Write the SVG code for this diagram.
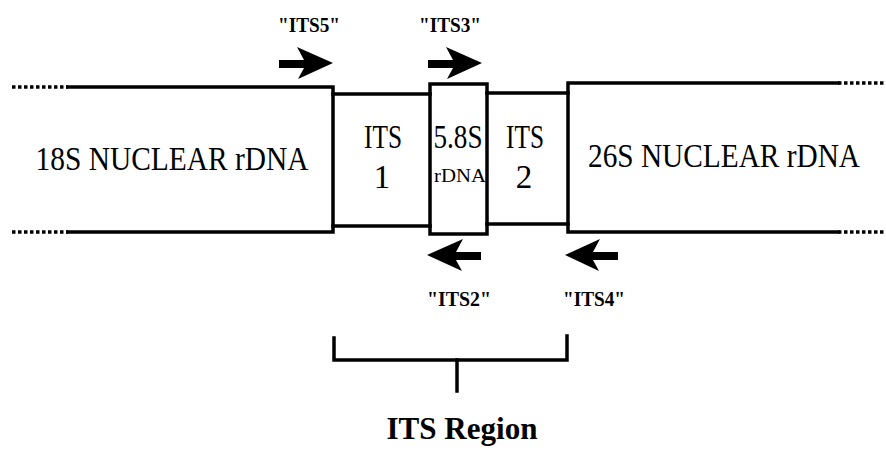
<svg xmlns="http://www.w3.org/2000/svg" width="886" height="454" viewBox="0 0 886 454">
<style>
.ln{fill:none;stroke:#000;stroke-width:3.5;stroke-linecap:square}
.dot{fill:none;stroke:#000;stroke-width:3.5;stroke-dasharray:3.5 2.5}
.lbl{font-family:"Liberation Serif",serif;fill:#000}
.big{font-size:33px}
.mid{font-size:33px}
.pr{font-family:"Liberation Serif",serif;font-weight:bold;font-size:21px;fill:#000}
.arr{fill:#000}
</style>
<rect width="886" height="454" fill="#fff"/>
<g id="n18S">
<line class="dot" x1="12" y1="87" x2="68" y2="87"/>
<line class="dot" x1="12" y1="232" x2="68" y2="232"/>
<polyline class="ln" points="68,87 333,87 333,232 68,232"/>
<text class="lbl big" x="172" y="170" text-anchor="middle" textLength="273" lengthAdjust="spacingAndGlyphs">18S NUCLEAR rDNA</text>
</g>
<g id="its1">
<line class="ln" x1="333" y1="94" x2="430" y2="94"/>
<line class="ln" x1="333" y1="226" x2="430" y2="226"/>
<text class="lbl mid" x="383" y="148" text-anchor="middle" textLength="38" lengthAdjust="spacingAndGlyphs">ITS</text>
<text class="lbl mid" x="382" y="188" text-anchor="middle">1</text>
</g>
<g id="r58S">
<rect class="ln" x="430" y="84" width="57" height="150"/>
<text class="lbl mid" x="458" y="148" text-anchor="middle" textLength="49" lengthAdjust="spacingAndGlyphs">5.8S</text>
<text class="lbl" x="460" y="182" font-size="19" text-anchor="middle" textLength="52" lengthAdjust="spacingAndGlyphs">rDNA</text>
</g>
<g id="its2">
<line class="ln" x1="487" y1="93" x2="568" y2="93"/>
<line class="ln" x1="487" y1="224" x2="568" y2="224"/>
<text class="lbl mid" x="525" y="148" text-anchor="middle" textLength="38" lengthAdjust="spacingAndGlyphs">ITS</text>
<text class="lbl mid" x="524" y="188" text-anchor="middle">2</text>
</g>
<g id="n26S">
<polyline class="ln" points="838,83 568,83 568,232 838,232"/>
<line class="dot" x1="838" y1="83" x2="886" y2="83"/>
<line class="dot" x1="838" y1="232" x2="886" y2="232"/>
<text class="lbl big" x="724" y="167" text-anchor="middle" textLength="272" lengthAdjust="spacingAndGlyphs">26S NUCLEAR rDNA</text>
</g>
<g id="primers">
<g id="p_its5">
<text class="pr" x="309" y="32" text-anchor="middle" textLength="62" lengthAdjust="spacingAndGlyphs">"ITS5"</text>
<polygon class="arr" points="279,60 304,60 297,47 333,63 298,79 304,68 279,68"/>
</g>
<g id="p_its3">
<text class="pr" x="450" y="32" text-anchor="middle" textLength="62" lengthAdjust="spacingAndGlyphs">"ITS3"</text>
<polygon class="arr" points="428,60 453,60 446,47 482,63 447,79 453,68 428,68"/>
</g>
<g id="p_its2">
<polygon class="arr" points="481,252 456,252 463,239 427,255 462,271 456,260 481,260"/>
<text class="pr" x="459" y="306" text-anchor="middle" textLength="64" lengthAdjust="spacingAndGlyphs">"ITS2"</text>
</g>
<g id="p_its4">
<polygon class="arr" points="618,252 593,252 600,239 565,255 599,271 593,260 618,260"/>
<text class="pr" x="594" y="306" text-anchor="middle" textLength="62" lengthAdjust="spacingAndGlyphs">"ITS4"</text>
</g>
</g>
<g id="bracket">
<polyline class="ln" points="334,338 334,360 567,360 567,336"/>
<line class="ln" x1="457" y1="360" x2="457" y2="391"/>
<text class="lbl" x="462" y="439" font-size="32" font-weight="bold" text-anchor="middle" textLength="151" lengthAdjust="spacingAndGlyphs">ITS Region</text>
</g>
</svg>
